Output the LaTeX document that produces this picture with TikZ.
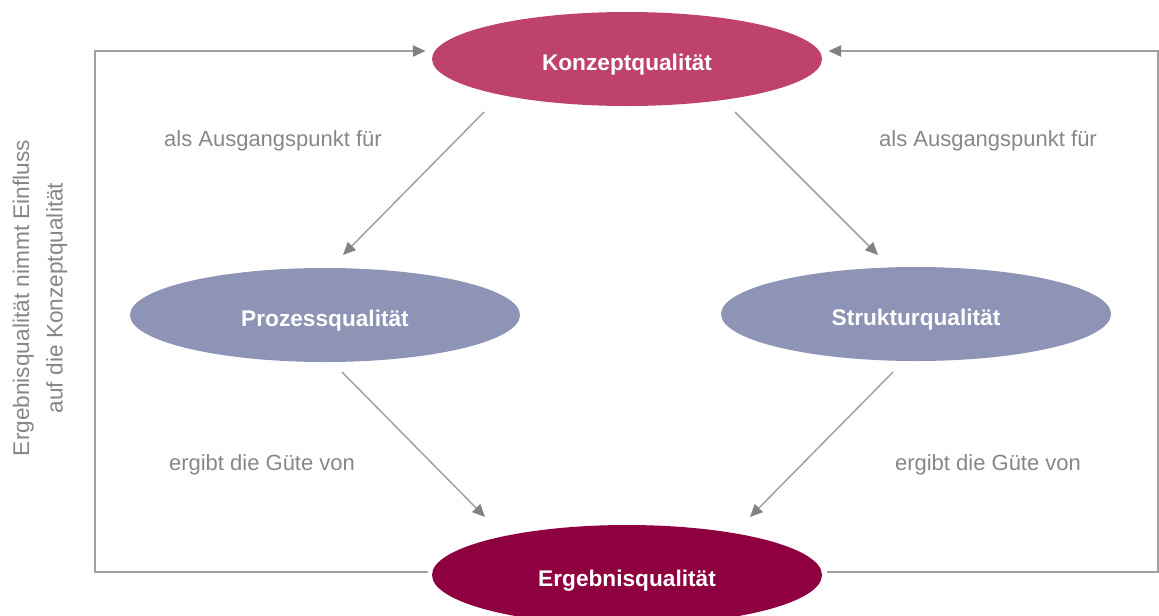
\documentclass[tikz,border=0pt]{standalone}
\usepackage{fontspec}
\setmainfont{Liberation Sans}
\usetikzlibrary{shapes.geometric,arrows.meta,calc}

\definecolor{konzeptc}{RGB}{191,65,110}
\definecolor{prozessc}{RGB}{142,148,181}
\definecolor{ergebnisc}{RGB}{142,0,64}
\definecolor{linegray}{RGB}{160,160,160}
\definecolor{tipgray}{RGB}{130,130,130}
\definecolor{textgray}{RGB}{135,135,135}

\tikzset{every picture/.style={line width=0.75pt}}
\tikzset{
  quali/.style={ellipse, minimum width=292.5pt, minimum height=70.5pt, inner sep=0pt,
    text height=19pt, text depth=2.5pt,
    text=white, font=\fontsize{17}{20}\selectfont\bfseries},
  link/.style={draw=linegray, line width=1.1pt},
  arr/.style={link, -{Triangle[length=9.5pt,width=8.5pt,color=tipgray]}},
  note/.style={text=textgray, font=\fontsize{16.5}{25}\selectfont}
}

\begin{document}
\begin{tikzpicture}[x=0.75pt,y=0.75pt,yscale=-1,xscale=1]
\useasboundingbox (0,0) rectangle (1159,615);

%Ellipses
\node[quali, fill=konzeptc] (konzept) at (627,59) {Konzeptqualität};
\node[quali, fill=prozessc] (prozess) at (325,315) {Prozessqualität};
\node[quali, fill=prozessc] (struktur) at (916,314) {Strukturqualität};
\node[quali, fill=ergebnisc, minimum height=75pt] (ergebnis) at (627,575) {Ergebnisqualität};

%Straight Lines
\draw[arr] ($(konzept)+(-143,53)$) -- ($(prozess)+(18,-60)$);
\draw[arr] ($(konzept)+(108,53)$) -- ($(struktur)+(-38,-59)$);
\draw[arr] ($(prozess)+(17,57)$) -- ($(ergebnis)+(-142,-58)$);
\draw[arr] ($(struktur)+(-23,58)$) -- ($(ergebnis)+(123,-58)$);

%Feedback lines
\coordinate (lcorner) at (95,51);
\coordinate (rcorner) at (1158,51);
\draw[arr] ($(ergebnis.west)+(-4,-3)$) -| (lcorner) -- ($(konzept.west)+(-6,-8)$);
\draw[arr] ($(ergebnis.east)+(4,-3)$) -| (rcorner) -- ($(konzept.east)+(6,-8)$);

%Labels
\node[note] (ausgangl) at (273,141) {als Ausgangspunkt für};
\node[note] (ausgangr) at (988,141) {als Ausgangspunkt für};
\node[note] (guetel) at (262,465) {ergibt die Güte von};
\node[note] (guetr) at (988,465) {ergibt die Güte von};
\node[note, rotate=90, align=center, font=\fontsize{17}{25}\selectfont] (einfluss) at (40,298) {Ergebnisqualität nimmt Einfluss\\auf die Konzeptqualität};

\end{tikzpicture}
\end{document}
